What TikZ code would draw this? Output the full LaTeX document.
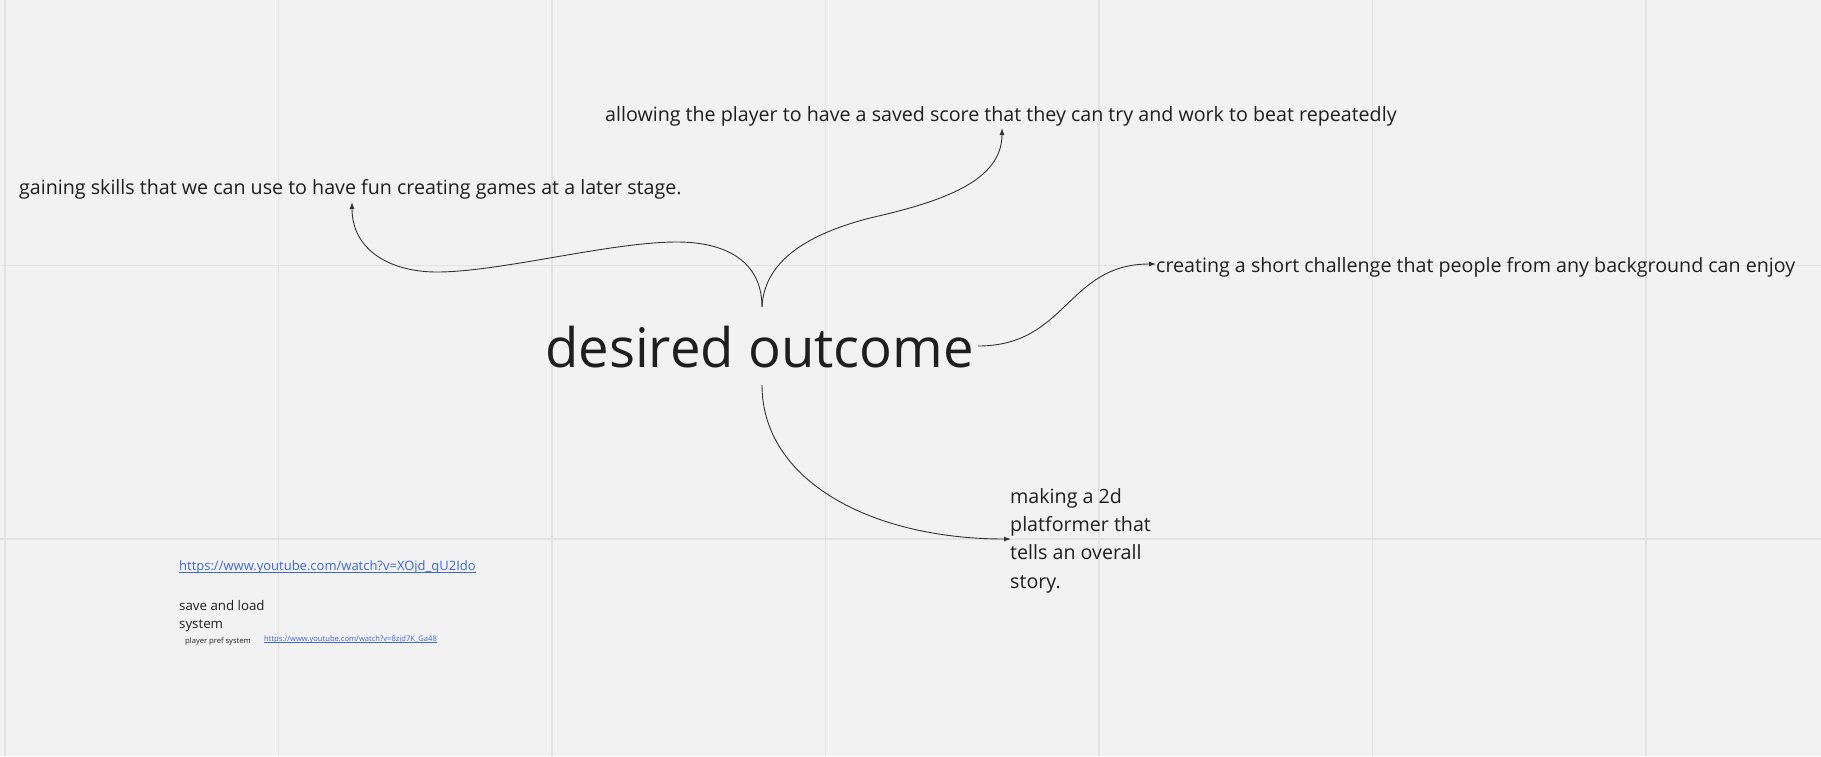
\documentclass[tikz,border=0pt]{standalone}
\usepackage{fontspec}
\setmainfont{Open Sans}
\usetikzlibrary{arrows.meta}
\definecolor{bg}{HTML}{F2F2F2}
\definecolor{gridc}{HTML}{E2E2E2}
\definecolor{txt}{HTML}{1E1E1E}
\definecolor{linkc}{HTML}{3D68D8}
\definecolor{conn}{HTML}{333333}
\tikzset{
  gridline/.style={draw=gridc, line width=1.5pt},
  lbl/.style={inner sep=0pt, anchor=base west, text=txt},
  conn/.style={draw=conn, line width=0.9pt, -{Latex[length=7pt,width=5pt]}},
  uline/.style={draw=linkc},
}
\begin{document}
\begin{tikzpicture}[x=1pt,y=-1pt]
\fill[bg] (0,0) rectangle (1821,756);
\useasboundingbox (0,0) rectangle (1821,756);
\foreach \x in {5,278.5,552,825.5,1099,1372.5,1646}
  \draw[gridline] (\x,0) -- (\x,756);
\foreach \y in {265.5,539}
  \draw[gridline] (0,\y) -- (1821,\y);

\node[lbl, font=\fontsize{54.5}{66}\selectfont] (main) at (545,367) {desired outcome};
\node[lbl, font=\fontsize{19.65}{24}\selectfont] (allow) at (605,121) {allowing the player to have a saved score that they can try and work to beat repeatedly};
\node[lbl, font=\fontsize{19.65}{24}\selectfont] (gain) at (19,194) {gaining skills that we can use to have fun creating games at a later stage.};
\node[lbl, font=\fontsize{19.65}{24}\selectfont] (create) at (1156,272) {creating a short challenge that people from any background can enjoy};
\node[lbl, font=\fontsize{19.65}{28.3}\selectfont, align=left] (make) at (1010,588) {making a 2d\\platformer that\\tells an overall\\story.};
\node[lbl, text=linkc, font=\fontsize{13}{16}\selectfont] (link1) at (179,570) {https://www.youtube.com/watch?v=XOjd\_qU2Ido};
\draw[uline, line width=0.9pt] ([yshift=-2pt]link1.base west) -- ([yshift=-2pt]link1.base east);
\node[lbl, font=\fontsize{13.3}{18.5}\selectfont, align=left] (save) at (179,628.5) {save and load\\system};
\node[lbl, font=\fontsize{7.6}{10}\selectfont] (pref) at (185,643) {player pref system};
\node[lbl, text=linkc, font=\fontsize{7.6}{9}\selectfont] (link2) at (264,641) {https://www.youtube.com/watch?v=8zjd7K\_Ga48};
\draw[uline, line width=0.5pt] ([yshift=-1.2pt]link2.base west) -- ([yshift=-1.2pt]link2.base east);

\coordinate (mtop) at (762,307);
\coordinate (mbot) at (762,385);
\coordinate (mright) at (978,346);
\coordinate (gtip) at (352,202);
\coordinate (atip) at (1002,128);
\coordinate (ctip) at (1156,264);
\coordinate (ktip) at (1011,539);

\draw[conn] (mtop) .. controls (762,262) and (727,242) .. (677,242)
  .. controls (610,242) and (500,272) .. (437,272)
  .. controls (390,272) and (352,250) .. (gtip);
\draw[conn] (mtop) .. controls (764,265) and (800,236) .. (870,218)
  .. controls (940,202) and (1002,182) .. (atip);
\draw[conn] (mright) .. controls (1067,346) and (1067,264) .. (ctip);
\draw[conn] (mbot) .. controls (762,480) and (870,539) .. (ktip);
\end{tikzpicture}
\end{document}
